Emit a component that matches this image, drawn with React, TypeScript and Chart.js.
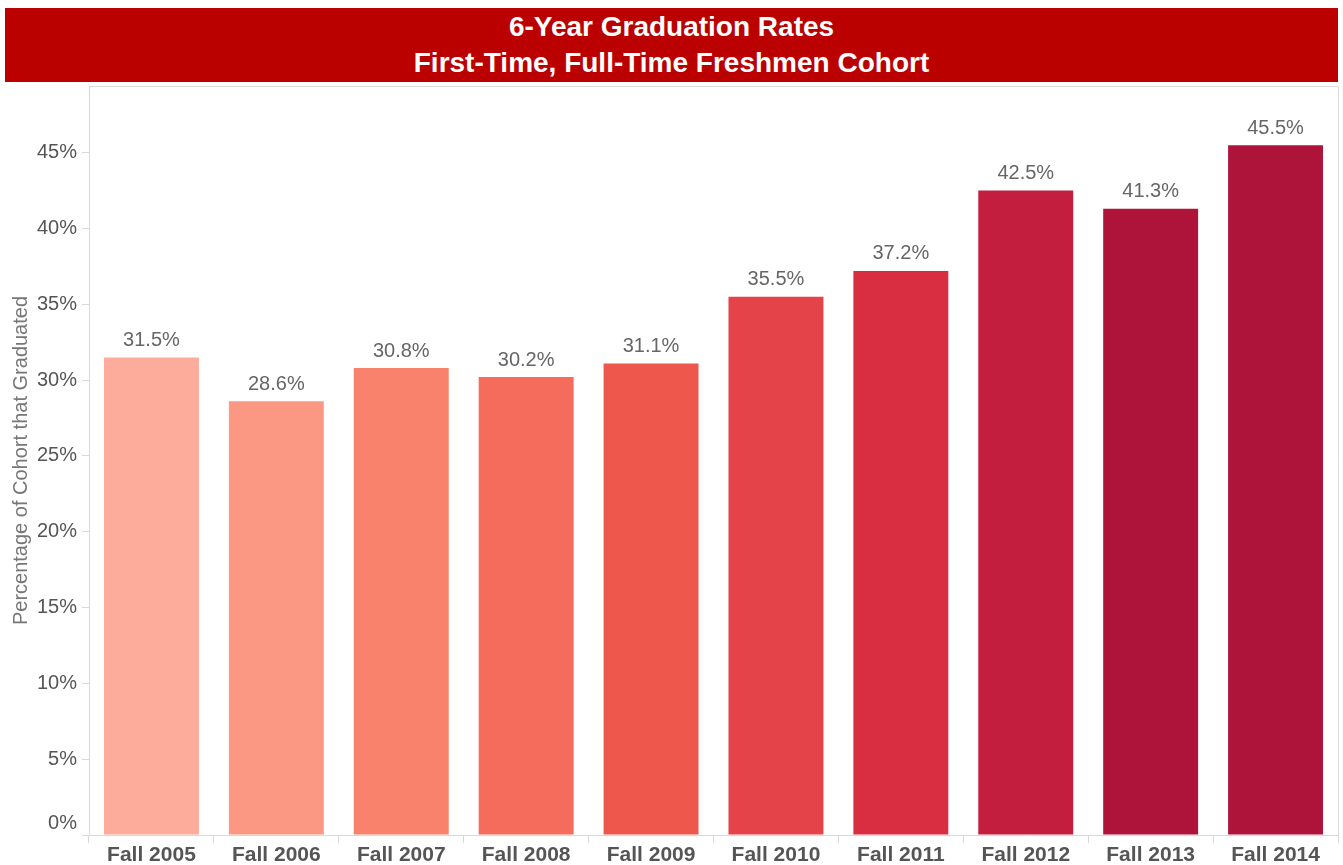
import React, { useEffect, useRef } from "react";
import { Chart, registerables } from "chart.js";

Chart.register(...registerables);

const categories = ["Fall 2005", "Fall 2006", "Fall 2007", "Fall 2008", "Fall 2009", "Fall 2010", "Fall 2011", "Fall 2012", "Fall 2013", "Fall 2014"];
const rates = [31.5, 28.6, 30.8, 30.2, 31.1, 35.5, 37.2, 42.5, 41.3, 45.5];
const barColors = ["#FDAB9A", "#FB9883", "#F8826C", "#F56C5D", "#EE574B", "#E5434A", "#D92E41", "#C41E3E", "#AE143A", "#AE143A"];
const yTickValues = [0, 5, 10, 15, 20, 25, 30, 35, 40, 45];
const titleLines = ["6-Year Graduation Rates", "First-Time, Full-Time Freshmen Cohort"];
const yAxisTitle = "Percentage of Cohort that Graduated";

const FONT = "Arial, 'Liberation Sans', sans-serif";

const frameAndLabels = {
  id: "frameAndLabels",
  afterDatasetsDraw(chart: any) {
    const { ctx, chartArea } = chart;
    ctx.save();
    ctx.strokeStyle = "#dcdcdc";
    ctx.lineWidth = 1;
    ctx.beginPath();
    ctx.moveTo(chartArea.left, chartArea.top + 0.5);
    ctx.lineTo(chartArea.right + 0.5, chartArea.top + 0.5);
    ctx.lineTo(chartArea.right + 0.5, chartArea.bottom);
    ctx.stroke();
    const meta = chart.getDatasetMeta(0);
    ctx.fillStyle = "#666666";
    ctx.font = `20px ${FONT}`;
    ctx.textAlign = "center";
    ctx.textBaseline = "bottom";
    meta.data.forEach((bar: any, i: number) => {
      ctx.fillText(rates[i].toFixed(1) + "%", bar.x, bar.y - 7);
    });
    // the 0% tick label sits slightly above its tick, as in the reference
    const yScale = chart.scales.y;
    ctx.fillStyle = "#555555";
    ctx.textAlign = "right";
    ctx.textBaseline = "middle";
    ctx.fillText(yTickValues[0] + "%", yScale.right - 12, yScale.getPixelForValue(yTickValues[0]) - 12);
    ctx.restore();
  },
};

export default function App() {
  const canvasRef = useRef<HTMLCanvasElement | null>(null);

  useEffect(() => {
    document.body.style.margin = "0";
    const chart = new Chart(canvasRef.current!, {
      type: "bar",
      data: {
        labels: categories,
        datasets: [
          {
            data: rates,
            backgroundColor: barColors,
            barPercentage: 0.76,
            categoryPercentage: 1,
          },
        ],
      },
      options: {
        animation: false,
        responsive: false,
        maintainAspectRatio: false,
        layout: { padding: { top: 86, right: 5, left: 0, bottom: 0 } },
        plugins: {
          legend: { display: false },
          tooltip: { enabled: false },
          title: { display: false },
        },
        scales: {
          x: {
            grid: {
              display: true,
              drawOnChartArea: false,
              drawTicks: true,
              tickLength: 8,
              color: "#d9d9d9",
              offset: true,
            },
            border: { display: true, color: "#d9d9d9" },
            ticks: {
              color: "#555555",
              font: { family: FONT, size: 21, weight: "bold" },
              padding: 0,
              maxRotation: 0,
            },
            afterFit: (scale: any) => {
              scale.height = 30;
            },
          },
          y: {
            min: 0,
            max: 49.4,
            afterBuildTicks: (scale: any) => {
              scale.ticks = yTickValues.map((v) => ({ value: v }));
            },
            grid: {
              display: true,
              drawOnChartArea: false,
              drawTicks: true,
              tickLength: 7,
              color: "#d9d9d9",
            },
            border: { display: true, color: "#d9d9d9" },
            ticks: {
              color: "#555555",
              font: { family: FONT, size: 20 },
              padding: 5,
              callback: (v: any) => (v === 0 ? "" : v + "%"),
            },
            title: {
              display: true,
              text: yAxisTitle,
              color: "#777777",
              font: { family: FONT, size: 20 },
              padding: { top: 9, bottom: 0 },
            },
            afterFit: (scale: any) => {
              scale.width = 89;
            },
          },
        },
      },
      plugins: [frameAndLabels],
    });
    return () => chart.destroy();
  }, []);

  return (
    <div style={{ position: "relative", width: 1343, height: 865, background: "#fff" }}>
      <canvas ref={canvasRef} width={1343} height={865} style={{ position: "absolute", left: 0, top: 0 }} />
      <div
        style={{
          position: "absolute",
          left: 5,
          top: 8,
          width: 1333,
          height: 74,
          background: "#BB0000",
          color: "#fff",
          fontFamily: FONT,
          fontWeight: "bold",
          fontSize: 28,
          lineHeight: "36px",
          textAlign: "center",
          display: "flex",
          flexDirection: "column",
          justifyContent: "center",
        }}
      >
        {titleLines.map((t) => (
          <div key={t}>{t}</div>
        ))}
      </div>
    </div>
  );
}
